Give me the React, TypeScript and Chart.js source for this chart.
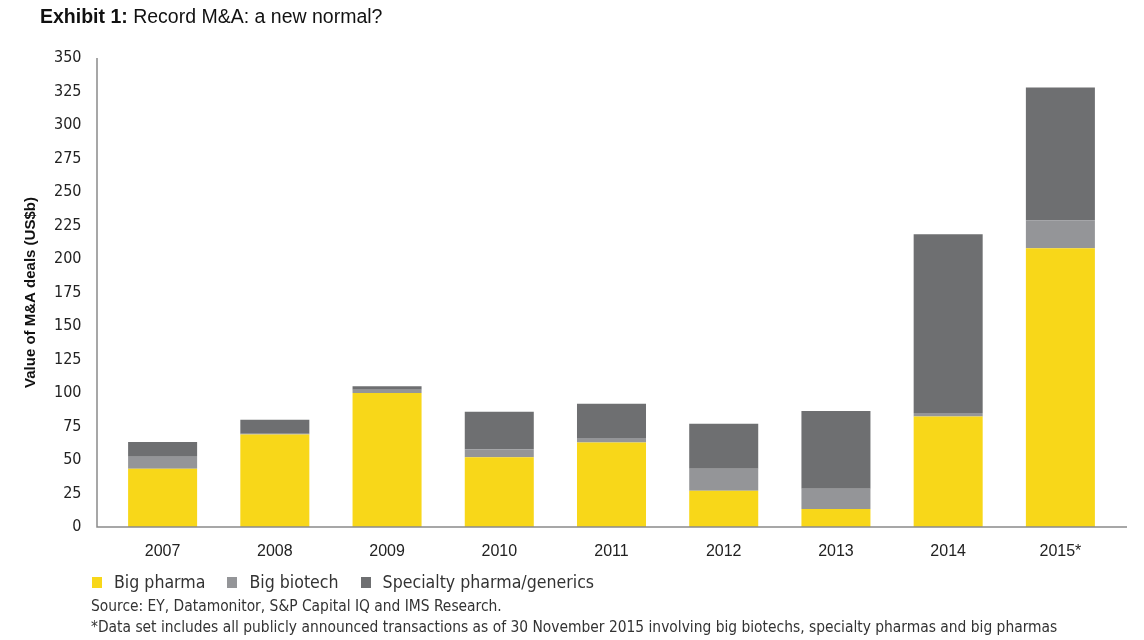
import React, { useEffect, useRef } from "react";
import { Chart, registerables } from "chart.js";

Chart.register(...registerables);

const years = ["2007", "2008", "2009", "2010", "2011", "2012", "2013", "2014", "2015*"];
const bigPharma = [43.5, 69, 100, 52, 63, 27, 13.5, 82.5, 208];
const bigBiotech = [9, 0.5, 2.5, 6, 3.5, 16.5, 15, 2.5, 21];
const specialty = [11, 10.5, 2.5, 28, 25.5, 33.5, 58, 133.5, 99];
const seriesNames = ["Big pharma", "Big biotech", "Specialty pharma/generics"];
const seriesColors = ["#F8D719", "#949598", "#6E6F71"];
const yTicks = [0, 25, 50, 75, 100, 125, 150, 175, 200, 225, 250, 275, 300, 325, 350];

const narrow = "'Liberation Sans Narrow', 'DejaVu Sans Condensed', 'Liberation Sans', sans-serif";
const regular = "'Liberation Sans', Arial, sans-serif";

export default function App() {
  const ref = useRef<HTMLCanvasElement | null>(null);

  useEffect(() => {
    const canvas = ref.current;
    if (!canvas) return;
    const axisLines = {
      id: "axisLines",
      afterDatasetsDraw(chart: any) {
        const { ctx, chartArea } = chart;
        ctx.save();
        ctx.strokeStyle = "#8a8a8a";
        ctx.lineWidth = 1.5;
        ctx.beginPath();
        const l = chartArea.left - 9.5;
        ctx.moveTo(l, chartArea.top);
        ctx.lineTo(l, chartArea.bottom);
        ctx.lineTo(chartArea.right + 10.5, chartArea.bottom);
        ctx.stroke();
        ctx.restore();
      },
    };
    const data = [bigPharma, bigBiotech, specialty];
    const chart = new Chart(canvas, {
      type: "bar",
      data: {
        labels: years,
        datasets: data.map((d, i) => ({
          label: seriesNames[i],
          data: d,
          backgroundColor: seriesColors[i],
          borderWidth: 0,
          categoryPercentage: 1,
          barPercentage: 0.615,
        })),
      },
      options: {
        animation: false,
        responsive: false,
        maintainAspectRatio: false,
        layout: { padding: { left: 0, right: 27.5, top: 58, bottom: 0 } },
        plugins: {
          legend: { display: false },
          tooltip: { enabled: false },
        },
        scales: {
          x: {
            stacked: true,
            grid: { display: false, drawTicks: false },
            border: { display: false },
            ticks: { color: "#222", font: { family: regular, size: 16 }, padding: 15, maxRotation: 0 },
            afterFit: (s: any) => { s.height = 113; },
          },
          y: {
            stacked: true,
            min: 0,
            max: 350,
            afterBuildTicks: (s: any) => { s.ticks = yTicks.map((v) => ({ value: v })); },
            grid: { display: false, drawTicks: false },
            border: { display: false },
            ticks: { color: "#222", font: { family: narrow, size: 16 }, padding: 25 },
            title: {
              display: true,
              text: "Value of M&A deals (US$b)",
              color: "#111",
              font: { family: regular, size: 15, weight: "bold" },
              padding: { top: 22, bottom: 0 },
            },
            afterFit: (s: any) => { s.width = 106.5; },
          },
        },
      },
      plugins: [axisLines],
    });
    return () => chart.destroy();
  }, []);

  return (
    <div style={{ position: "fixed", left: 0, top: 0, width: 1144, height: 640, background: "#fff", overflow: "hidden" }}>
      <canvas ref={ref} width={1144} height={640} style={{ position: "absolute", left: 0, top: 0, width: 1144, height: 640 }} />
      <div style={{ position: "absolute", left: 40, top: 5, fontFamily: regular, fontSize: 19.5, color: "#111", whiteSpace: "nowrap" }}>
        <b>Exhibit 1:</b> Record M&amp;A: a new normal?
      </div>
      <div style={{ position: "absolute", left: 92, top: 572, fontFamily: narrow, fontSize: 17.6, color: "#333", display: "flex", whiteSpace: "nowrap" }}>
        {seriesNames.map((n, i) => (
          <div key={n} style={{ display: "flex", alignItems: "center", marginRight: 22 }}>
            <span style={{ display: "inline-block", width: 10, height: 11, background: seriesColors[i], marginRight: 12 }} />
            <span>{n}</span>
          </div>
        ))}
      </div>
      <div style={{ position: "absolute", left: 91, top: 597, fontFamily: narrow, fontSize: 15.4, color: "#333", whiteSpace: "nowrap" }}>
        Source: EY, Datamonitor, S&amp;P Capital IQ and IMS Research.
      </div>
      <div style={{ position: "absolute", left: 91, top: 618, fontFamily: narrow, fontSize: 15.4, color: "#333", whiteSpace: "nowrap" }}>
        *Data set includes all publicly announced transactions as of 30 November 2015 involving big biotechs, specialty pharmas and big pharmas
      </div>
    </div>
  );
}
